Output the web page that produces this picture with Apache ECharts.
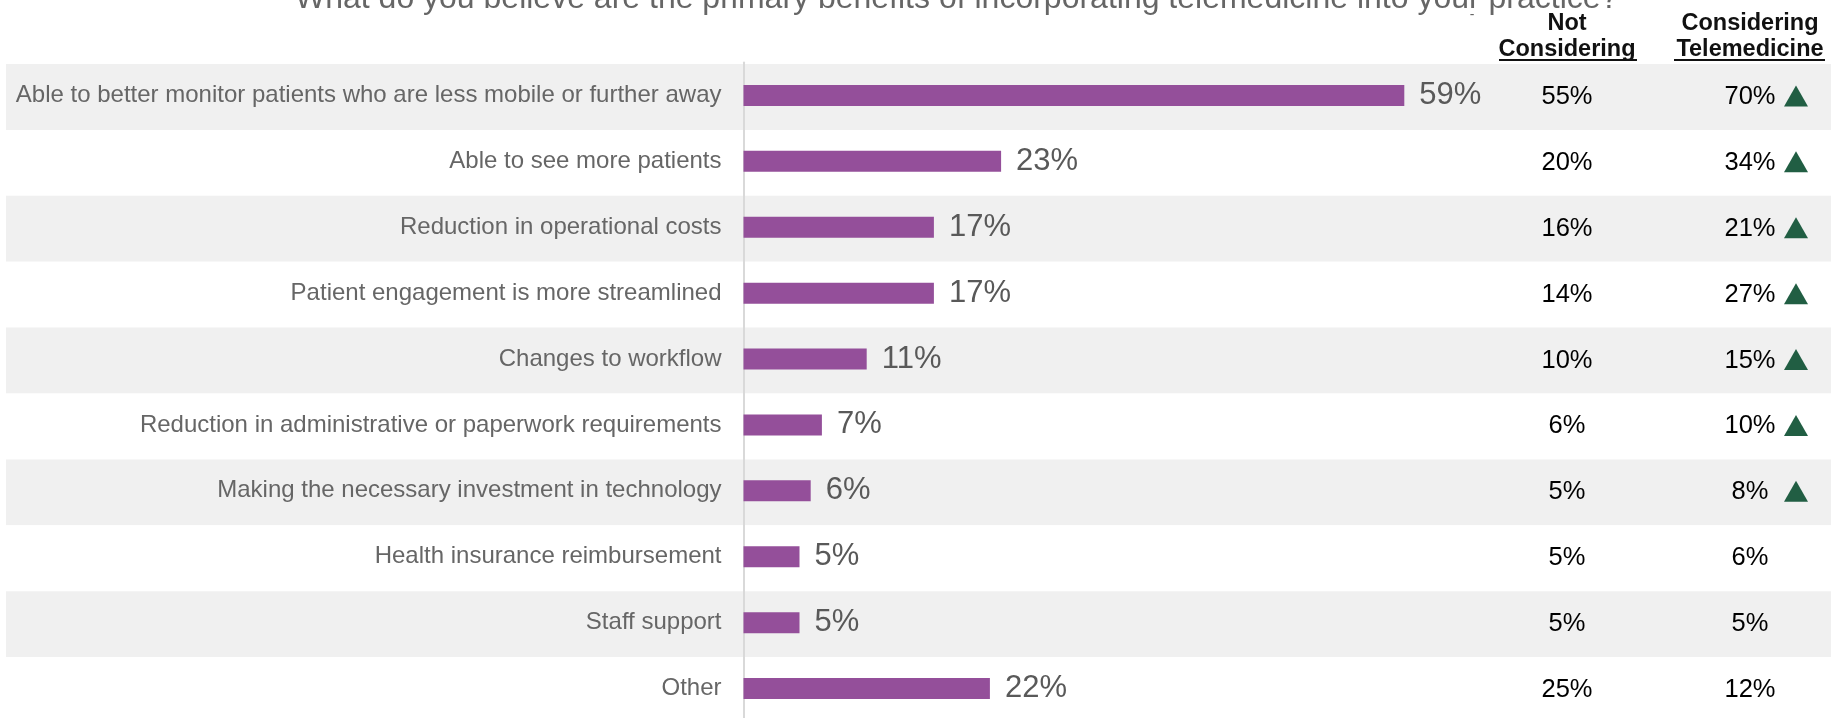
<!DOCTYPE html>
<html>
<head>
<meta charset="utf-8">
<title>Telemedicine benefits</title>
<script src="https://cdn.jsdelivr.net/npm/echarts@6/dist/echarts.min.js"></script>
<style>
  html, body { margin: 0; padding: 0; background: #ffffff; }
  #chart { width: 1831px; height: 718px; }
</style>
</head>
<body>
<div id="chart"></div>
<script>
// Survey question and answer categories (top to bottom)
const titleText = 'What do you believe are the primary benefits of incorporating telemedicine into your practice?';
const categories = [
  'Able to better monitor patients who are less mobile or further away',
  'Able to see more patients',
  'Reduction in operational costs',
  'Patient engagement is more streamlined',
  'Changes to workflow',
  'Reduction in administrative or paperwork requirements',
  'Making the necessary investment in technology',
  'Health insurance reimbursement',
  'Staff support',
  'Other'
];
// Total share of respondents (%)
const totalShare = [59, 23, 17, 17, 11, 7, 6, 5, 5, 22];
// Breakdown columns (%)
const notConsidering = [55, 20, 16, 14, 10, 6, 5, 5, 5, 25];
const consideringTelemedicine = [70, 34, 21, 27, 15, 10, 8, 6, 5, 12];
// Rows where the "Considering" group is significantly higher
const significantlyHigher = [true, true, true, true, true, true, true, false, false, false];
const columnHeaders = ['Not\nConsidering', 'Considering\nTelemedicine'];

const FONT = '"Liberation Sans", Arial, Helvetica, sans-serif';
const chart = echarts.init(document.getElementById('chart'), null, { renderer: 'canvas' });

const rowCount = categories.length;
const rowHeight = 65.9;

chart.setOption({
  animation: false,
  backgroundColor: '#ffffff',
  textStyle: { fontFamily: FONT },
  title: {
    text: titleText,
    left: 290,
    top: -22,
    textStyle: { fontFamily: FONT, fontSize: 32, fontWeight: 'normal', color: '#666666' }
  },
  graphic: [
    { type: 'text', x: 1472, y: 15, style: { text: '-', font: '14px ' + FONT, fill: '#666666', align: 'center', verticalAlign: 'middle' } },
    // header underlines
    { type: 'rect', shape: { x: 1499, y: 59, width: 138, height: 2 }, style: { fill: '#111111' } },
    { type: 'rect', shape: { x: 1674, y: 59, width: 151, height: 2 }, style: { fill: '#111111' } }
  ],
  grid: [
    // alternating row bands
    { left: 6, top: 64, width: 1825, height: rowHeight * rowCount, outerBoundsMode: 'none' },
    // bars
    { left: 743.5, top: 62.5, width: 1120, height: rowHeight * rowCount, outerBoundsMode: 'none' },
    // breakdown columns
    { left: 1475.5, top: 64, width: 366, height: rowHeight * rowCount, outerBoundsMode: 'none' }
  ],
  xAxis: [
    { gridIndex: 0, type: 'value', min: 0, max: 1, show: false },
    { gridIndex: 1, type: 'value', min: 0, max: 100, show: false },
    {
      gridIndex: 2, type: 'category', data: columnHeaders, position: 'top',
      axisLine: { show: false }, axisTick: { show: false }, splitLine: { show: false },
      axisLabel: {
        interval: 0, margin: 1.5, fontFamily: FONT, fontSize: 23.5, fontWeight: 'bold',
        color: '#111111', lineHeight: 26
      }
    }
  ],
  yAxis: [
    {
      gridIndex: 0, type: 'category', data: categories, inverse: true,
      axisLine: { show: false }, axisTick: { show: false }, axisLabel: { show: false },
      splitLine: { show: false },
      splitArea: { show: true, interval: 0, areaStyle: { color: ['#f0f0f0', '#ffffff'] } }
    },
    {
      gridIndex: 1, type: 'category', data: categories, inverse: true,
      axisLine: { show: true, lineStyle: { color: '#d9d9d9', width: 2 } },
      axisTick: { show: false }, splitLine: { show: false },
      axisLabel: { interval: 0, margin: 22, fontFamily: FONT, fontSize: 24, color: '#666666' }
    },
    {
      gridIndex: 2, type: 'category', data: categories, inverse: true, show: false
    }
  ],
  series: [
    {
      name: 'Total',
      type: 'bar',
      xAxisIndex: 1, yAxisIndex: 1,
      data: totalShare,
      barWidth: 21,
      itemStyle: { color: '#944f9a' },
      label: {
        show: true, position: 'right', distance: 15,
        fontFamily: FONT, fontSize: 31, color: '#595959',
        formatter: p => p.value + '%'
      },
      emphasis: { disabled: true }
    },
    {
      name: 'Not Considering',
      type: 'scatter',
      xAxisIndex: 2, yAxisIndex: 2,
      symbolSize: 1,
      itemStyle: { color: 'rgba(0,0,0,0)', opacity: 1 },
      data: notConsidering.map((v, i) => [0, i, v]),
      label: {
        show: true, position: 'inside', fontFamily: FONT, fontSize: 25.5, color: '#000000',
        formatter: p => p.value[2] + '%'
      },
      emphasis: { disabled: true }
    },
    {
      name: 'Considering Telemedicine',
      type: 'scatter',
      xAxisIndex: 2, yAxisIndex: 2,
      symbolSize: 1,
      itemStyle: { color: 'rgba(0,0,0,0)', opacity: 1 },
      data: consideringTelemedicine.map((v, i) => [1, i, v]),
      label: {
        show: true, position: 'inside', fontFamily: FONT, fontSize: 25.5, color: '#000000',
        formatter: p => p.value[2] + '%'
      },
      emphasis: { disabled: true }
    },
    {
      name: 'Significantly higher',
      type: 'scatter',
      xAxisIndex: 2, yAxisIndex: 2,
      symbol: 'triangle',
      symbolSize: [24, 21],
      symbolOffset: [46, -1],
      itemStyle: { color: '#215e43', opacity: 1 },
      data: significantlyHigher
        .map((flag, i) => (flag ? [1, i, consideringTelemedicine[i]] : null))
        .filter(d => d !== null),
      emphasis: { disabled: true }
    }
  ]
});
</script>
</body>
</html>
